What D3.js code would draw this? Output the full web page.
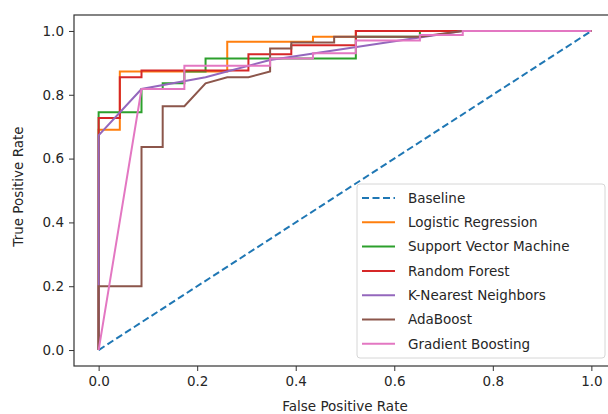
<!DOCTYPE html>
<html>
<head>
<meta charset="utf-8">
<script src="https://cdn.jsdelivr.net/npm/d3@7"></script>
<style>
  body { margin: 0; background: #fff; }
  text { font-family: "DejaVu Sans", sans-serif; fill: #262626; }
</style>
</head>
<body>
<svg></svg>
<script>
const width = 608;
const height = 414;
const margin = { top: 15, right: -8, bottom: 48, left: 74 };

// ROC curves as [fpr, tpr] points
const baseline = [[0, 0], [1, 1]];
const logisticRegression = [[0, 0], [0, 0.69], [0.043, 0.69], [0.043, 0.873], [0.261, 0.873], [0.261, 0.966], [0.435, 0.966], [0.435, 0.982], [0.522, 0.982], [0.522, 1], [1, 1]];
const svm = [[0, 0], [0, 0.745], [0.087, 0.745], [0.087, 0.818], [0.13, 0.818], [0.13, 0.836], [0.174, 0.836], [0.174, 0.873], [0.217, 0.873], [0.217, 0.914], [0.522, 0.914], [0.522, 0.982], [0.652, 0.982], [0.652, 1], [1, 1]];
const randomForest = [[0, 0], [0, 0.727], [0.043, 0.727], [0.043, 0.855], [0.087, 0.855], [0.087, 0.876], [0.304, 0.876], [0.304, 0.927], [0.391, 0.927], [0.391, 0.955], [0.522, 0.955], [0.522, 1], [1, 1]];
const knn = [[0, 0], [0, 0.673], [0.087, 0.818], [0.217, 0.855], [0.348, 0.909], [0.739, 1], [1, 1]];
const adaBoost = [[0, 0], [0, 0.2], [0.087, 0.2], [0.087, 0.636], [0.13, 0.636], [0.13, 0.764], [0.174, 0.764], [0.217, 0.836], [0.261, 0.855], [0.304, 0.855], [0.348, 0.873], [0.348, 0.945], [0.391, 0.945], [0.391, 0.964], [0.478, 0.964], [0.478, 0.982], [0.652, 0.982], [0.739, 1], [1, 1]];
const gradientBoosting = [[0, 0], [0.087, 0.818], [0.174, 0.818], [0.174, 0.891], [0.348, 0.891], [0.348, 0.914], [0.435, 0.914], [0.435, 0.93], [0.522, 0.93], [0.522, 0.97], [0.652, 0.97], [0.652, 0.987], [0.739, 0.987], [0.739, 1], [1, 1]];

const seriesNames = ["Baseline", "Logistic Regression", "Support Vector Machine", "Random Forest", "K-Nearest Neighbors", "AdaBoost", "Gradient Boosting"];
const seriesData = [baseline, logisticRegression, svm, randomForest, knn, adaBoost, gradientBoosting];
const colors = ["#1f77b4", "#ff7f0e", "#2ca02c", "#d62728", "#9467bd", "#8c564b", "#e377c2"];
const tickValues = [0, 0.2, 0.4, 0.6, 0.8, 1.0];

const svg = d3.select("svg")
    .attr("width", width)
    .attr("height", height);

const x = d3.scaleLinear()
    .domain([-0.05, 1.05])
    .range([margin.left, width - margin.right]);

const y = d3.scaleLinear()
    .domain([-0.05, 1.05])
    .range([height - margin.bottom, margin.top]);

svg.append("clipPath")
    .attr("id", "plot-clip")
    .append("rect")
    .attr("x", margin.left)
    .attr("y", margin.top)
    .attr("width", width - margin.right - margin.left)
    .attr("height", height - margin.bottom - margin.top);

const line = d3.line()
    .x(d => x(d[0]))
    .y(d => y(d[1]));

svg.append("g")
    .attr("clip-path", "url(#plot-clip)")
    .selectAll("path")
    .data(seriesData)
    .enter().append("path")
    .attr("d", line)
    .attr("fill", "none")
    .attr("stroke", (d, i) => colors[i])
    .attr("stroke-width", 2)
    .attr("stroke-dasharray", (d, i) => i === 0 ? "7,3.5" : null)
    .attr("stroke-linejoin", "miter");

// axes
const xAxis = svg.append("g")
    .attr("transform", `translate(0,${height - margin.bottom})`)
    .call(d3.axisBottom(x).tickValues(tickValues).tickFormat(d3.format(".1f")).tickSize(5).tickPadding(5));

const yAxis = svg.append("g")
    .attr("transform", `translate(${margin.left},0)`)
    .call(d3.axisLeft(y).tickValues(tickValues).tickFormat(d3.format(".1f")).tickSize(5).tickPadding(5));

[xAxis, yAxis].forEach(a => {
    a.select(".domain").remove();
    a.selectAll(".tick line").attr("stroke", "#333");
    a.selectAll(".tick text")
        .style("font-family", "DejaVu Sans, sans-serif")
        .style("font-size", "13.5px")
        .attr("fill", "#262626");
});

svg.append("rect")
    .attr("x", margin.left)
    .attr("y", margin.top)
    .attr("width", width - margin.right - margin.left)
    .attr("height", height - margin.bottom - margin.top)
    .attr("fill", "none")
    .attr("stroke", "#333")
    .attr("stroke-width", 1.2);

svg.append("text")
    .attr("x", (margin.left + width - margin.right) / 2)
    .attr("y", 411)
    .attr("text-anchor", "middle")
    .style("font-size", "13.5px")
    .text("False Positive Rate");

svg.append("text")
    .attr("transform", `translate(23,${(margin.top + height - margin.bottom) / 2 - 4}) rotate(-90)`)
    .attr("text-anchor", "middle")
    .style("font-size", "13.5px")
    .text("True Positive Rate");

// legend
const legend = svg.append("g")
    .attr("transform", "translate(357,184)");

legend.append("rect")
    .attr("width", 248)
    .attr("height", 174)
    .attr("rx", 3)
    .attr("fill", "#fff")
    .attr("fill-opacity", 0.85)
    .attr("stroke", "#d6d6d6");

const legendItem = legend.selectAll(".legend-item")
    .data(seriesNames)
    .enter().append("g")
    .attr("class", "legend-item")
    .attr("transform", (d, i) => `translate(0,${14 + i * 24.3})`);

legendItem.append("line")
    .attr("x1", 5)
    .attr("x2", 38)
    .attr("stroke", (d, i) => colors[i])
    .attr("stroke-width", 2)
    .attr("stroke-dasharray", (d, i) => i === 0 ? "7,3.5" : null);

legendItem.append("text")
    .attr("x", 51)
    .attr("dy", "0.35em")
    .style("font-size", "13.5px")
    .text(d => d);
</script>
</body>
</html>
